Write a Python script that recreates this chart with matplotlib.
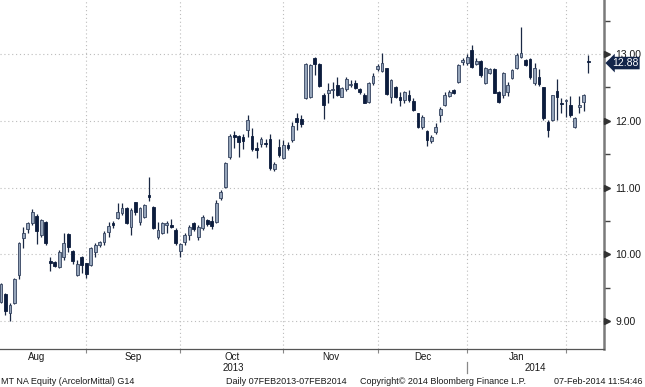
import numpy as np
import matplotlib
matplotlib.use('Agg')
import matplotlib.pyplot as plt
import matplotlib.transforms as mtransforms

# daily OHLC, ArcelorMittal (MT NA), early Aug 2013 -> 7 Feb 2014, one entry per trading day
opens = [9.28, 9.40, 9.12, 9.27, 9.69, 10.24, 10.38, 10.47, 10.57, 10.29, 10.48, 9.90, 9.88, 9.81, 9.96, 10.30, 10.05, 9.69, 9.96, 9.87, 9.84, 10.03, 10.14,
         10.18, 10.33, 10.47, 10.54, 10.62, 10.69, 10.41, 10.78, 10.48, 10.56, 10.89, 10.71, 10.26, 10.32, 10.44, 10.44, 10.36, 10.05, 10.18, 10.29, 10.47,
         10.26, 10.39, 10.51, 10.50, 10.48, 10.84, 11.01, 11.46, 11.79, 11.77, 11.76, 11.86, 11.77, 11.59, 11.65, 11.67, 11.73, 11.28, 11.61, 11.44, 11.64, 11.71, 12.04, 12.03,
         12.34, 12.36, 12.94, 12.85, 12.39, 12.42, 12.46, 12.54, 12.36, 12.48, 12.54, 12.57, 12.48, 12.39, 12.28, 12.57, 12.78, 12.75, 12.79, 12.36, 12.51, 12.36, 12.31, 12.39,
         12.30, 12.12, 11.91, 11.85, 11.70, 11.83, 12.09, 12.24, 12.37, 12.46, 12.58, 12.88, 12.87, 13.06, 12.85,
         12.90, 12.57, 12.72, 12.78, 12.43, 12.39, 12.43, 12.64, 12.79, 12.96, 12.91, 12.93, 12.57, 12.66, 12.51, 11.98, 12.01, 12.45, 12.27, 12.30, 12.24, 11.91, 12.21, 12.28, 12.89]
highs = [9.57, 9.42, 9.27, 9.64, 10.18, 10.41, 10.48, 10.68, 10.60, 10.53, 10.50, 9.96, 9.90, 10.06, 10.32, 10.32, 10.06, 9.91, 9.97, 9.87, 10.11, 10.17, 10.20,
         10.35, 10.48, 10.50, 10.77, 10.77, 10.71, 10.69, 10.78, 10.71, 10.75, 11.16, 10.72, 10.48, 10.48, 10.50, 10.53, 10.39, 10.17, 10.32, 10.44, 10.48,
         10.44, 10.59, 10.53, 10.57, 10.81, 10.96, 11.38, 11.80, 11.85, 11.79, 11.80, 12.09, 11.89, 11.68, 11.76, 11.73, 11.80, 11.38, 11.73, 11.71, 11.68, 11.98, 12.12, 12.09,
         12.87, 12.85, 12.96, 12.87, 12.42, 12.57, 12.58, 12.66, 12.51, 12.66, 12.61, 12.61, 12.49, 12.42, 12.58, 12.72, 12.85, 13.02, 12.79, 12.63, 12.52, 12.43, 12.45, 12.46,
         12.34, 12.12, 12.09, 11.86, 11.79, 11.97, 12.21, 12.43, 12.46, 12.48, 12.85, 12.94, 13.00, 13.14, 12.94,
         12.91, 12.81, 12.79, 12.79, 12.45, 12.73, 12.58, 12.78, 13.02, 13.41, 12.93, 12.94, 12.87, 12.78, 12.51, 12.01, 12.39, 12.63, 12.34, 12.33, 12.37, 12.06, 12.37, 12.40, 12.99]
lows = [9.27, 9.09, 9.00, 9.25, 9.63, 10.09, 10.32, 10.44, 10.15, 10.26, 10.14, 9.75, 9.81, 9.79, 9.91, 10.03, 9.85, 9.67, 9.72, 9.64, 9.82, 9.96, 10.11,
        10.14, 10.26, 10.39, 10.53, 10.59, 10.45, 10.29, 10.59, 10.44, 10.54, 10.80, 10.38, 10.23, 10.30, 10.32, 10.39, 10.14, 9.96, 10.14, 10.21, 10.35,
        10.21, 10.36, 10.42, 10.38, 10.47, 10.81, 10.99, 11.43, 11.59, 11.46, 11.58, 11.76, 11.55, 11.44, 11.61, 11.61, 11.26, 11.25, 11.46, 11.43, 11.56, 11.68, 11.86, 11.91,
        12.33, 12.34, 12.69, 12.51, 12.03, 12.27, 12.34, 12.37, 12.36, 12.45, 12.51, 12.48, 12.40, 12.27, 12.27, 12.54, 12.75, 12.73, 12.39, 12.27, 12.34, 12.22, 12.27, 12.28,
        12.15, 11.89, 11.88, 11.62, 11.67, 11.80, 11.98, 12.22, 12.36, 12.40, 12.57, 12.84, 12.84, 12.79, 12.84,
        12.66, 12.55, 12.70, 12.42, 12.27, 12.34, 12.37, 12.63, 12.78, 12.94, 12.82, 12.63, 12.54, 12.52, 12.01, 11.76, 12.00, 12.01, 12.12, 12.06, 12.06, 11.89, 12.12, 12.15, 12.72]
closes = [9.55, 9.15, 9.24, 9.63, 10.17, 10.32, 10.47, 10.63, 10.35, 10.51, 10.17, 9.87, 9.82, 10.03, 10.17, 10.11, 9.90, 9.85, 9.84, 9.70, 10.09, 10.14, 10.18,
          10.32, 10.42, 10.44, 10.63, 10.69, 10.47, 10.66, 10.63, 10.69, 10.74, 10.86, 10.39, 10.36, 10.47, 10.47, 10.41, 10.17, 10.15, 10.29, 10.41, 10.38,
          10.41, 10.56, 10.45, 10.42, 10.77, 10.93, 11.37, 11.77, 11.76, 11.68, 11.70, 12.01, 11.58, 11.56, 11.73, 11.65, 11.29, 11.35, 11.49, 11.64, 11.59, 11.92, 11.98, 11.95,
          12.85, 12.84, 12.85, 12.52, 12.24, 12.46, 12.48, 12.39, 12.49, 12.63, 12.55, 12.49, 12.43, 12.27, 12.57, 12.67, 12.82, 12.87, 12.40, 12.61, 12.36, 12.31, 12.43, 12.31,
          12.16, 11.91, 12.06, 11.71, 11.76, 11.91, 12.18, 12.39, 12.43, 12.42, 12.84, 12.91, 12.96, 12.81, 12.90,
          12.69, 12.79, 12.78, 12.42, 12.28, 12.72, 12.54, 12.76, 12.99, 13.02, 12.84, 12.66, 12.79, 12.55, 12.04, 11.86, 12.39, 12.36, 12.25, 12.31, 12.09, 12.04, 12.24, 12.39, 12.88]

month_names = ['Aug', 'Sep', 'Oct', 'Nov', 'Dec', 'Jan']
month_ends = [-3, 19, 40, 63, 84, 104, 126]   # trading-day index of last day of each month
year_names = ['2013', '2014']
year_break = 104
price_ticks = [9, 10, 11, 12, 13]
last_price = 12.88

footer_left = 'MT NA Equity (ArcelorMittal) G14'
footer_mid = 'Daily 07FEB2013-07FEB2014'
footer_copy = 'Copyright\u00a9 2014 Bloomberg Finance L.P.'
footer_time = '07-Feb-2014 11:54:46'

plt.rcParams['font.family'] = ['Liberation Sans', 'DejaVu Sans']

o = np.array(opens); h = np.array(highs); l = np.array(lows); c = np.array(closes)
idx = np.arange(len(o))
up = c >= o

DARK = '#0c1c3d'
LIGHT = '#95a4b9'
LIGHT_EDGE = '#34435f'
GRID = '#bcbcbc'

fig = plt.figure(figsize=(6.45, 3.87), dpi=100)
ax = fig.add_axes([0, 38 / 387, 604 / 645, 349 / 387])

# wicks
ax.vlines(idx, l, h, color='#1a2844', lw=0.9, zorder=3)
# bodies
ax.bar(idx[up], (c - o)[up], bottom=o[up], width=0.62, color=LIGHT, edgecolor=LIGHT_EDGE, lw=0.6, zorder=4)
ax.bar(idx[~up], (o - c)[~up], bottom=c[~up], width=0.62, color=DARK, edgecolor=DARK, lw=0.6, zorder=4)

ax.set_xlim(-0.22, 134.5)
ax.set_ylim(8.58, 13.81)

# dotted grid
for p in price_ticks:
    ax.axhline(p, color=GRID, lw=0.8, ls=(0, (1, 2.5)), zorder=1)
for m in month_ends[1:]:
    ax.axvline(m, color=GRID, lw=0.8, ls=(0, (1, 2.5)), zorder=1)

for side in ['left', 'top']:
    ax.spines[side].set_visible(False)
ax.spines['right'].set_color('#7a7a7a')
ax.spines['right'].set_linewidth(1.8)
ax.spines['bottom'].set_color('#555555')
ax.spines['bottom'].set_linewidth(0.9)

# right price axis
ax.yaxis.tick_right()
ax.set_yticks(price_ticks)
ax.set_yticklabels(['%.2f' % p for p in price_ticks])
ax.set_yticks(np.arange(9.5, 14, 1.0), minor=True)
ax.tick_params(axis='y', which='major', length=0, pad=8, labelsize=7.5, labelcolor='#1a1a1a')
ax.tick_params(axis='y', which='minor', length=4, width=1, color='#444444', direction='out')
tri = mtransforms.offset_copy(ax.get_yaxis_transform(), fig=fig, x=3, y=0, units='dots')
ax.plot(np.ones(len(price_ticks)), price_ticks, ls='none', marker='>', ms=4.5,
        color='#333333', transform=tri, clip_on=False, zorder=5)

# last price flag (sits over the lower half of the 13.00 label, as in the original)
flag = mtransforms.offset_copy(ax.get_yaxis_transform(), fig=fig, x=8, y=-1, units='dots')
ax.text(1.0, last_price, '%.2f' % last_price, transform=flag, ha='left', va='center',
        color='white', fontsize=7.5, zorder=10, clip_on=False,
        bbox=dict(boxstyle='larrow,pad=0.12', fc='#13254a', ec='none'))

# bottom axis: month ticks and labels
ax.set_xticks(month_ends[1:])
ax.set_xticklabels([])
ax.tick_params(axis='x', length=3, width=0.8, color='#888888', direction='out')
xb = ax.get_xaxis_transform()
for k, name in enumerate(month_names):
    ax.text((month_ends[k] + month_ends[k + 1]) / 2, -8 / 349, name, transform=xb,
            ha='center', va='center', fontsize=7, color='#1a1a1a', clip_on=False)
lo, hi = ax.get_xlim()
ax.text((lo + year_break) / 2, -19 / 349, year_names[0], transform=xb, ha='center', va='center',
        fontsize=7, color='#1a1a1a', clip_on=False)
ax.text((year_break + hi) / 2, -19 / 349, year_names[1], transform=xb, ha='center', va='center',
        fontsize=7, color='#1a1a1a', clip_on=False)
ax.plot([year_break, year_break], [-13 / 349, -24 / 349], transform=xb, color='#888888',
        lw=0.9, clip_on=False)

# footer
fy = 1 - 381 / 387
fig.text(1 / 645, fy, footer_left, ha='left', va='center', fontsize=6.5, color='#1a1a1a')
fig.text(226 / 645, fy, footer_mid, ha='left', va='center', fontsize=6.5, color='#1a1a1a')
fig.text(360 / 645, fy, footer_copy, ha='left', va='center', fontsize=6.5, color='#1a1a1a')
fig.text(643 / 645, fy, footer_time, ha='right', va='center', fontsize=6.5, color='#1a1a1a')

fig.savefig('out.png', dpi=100)
